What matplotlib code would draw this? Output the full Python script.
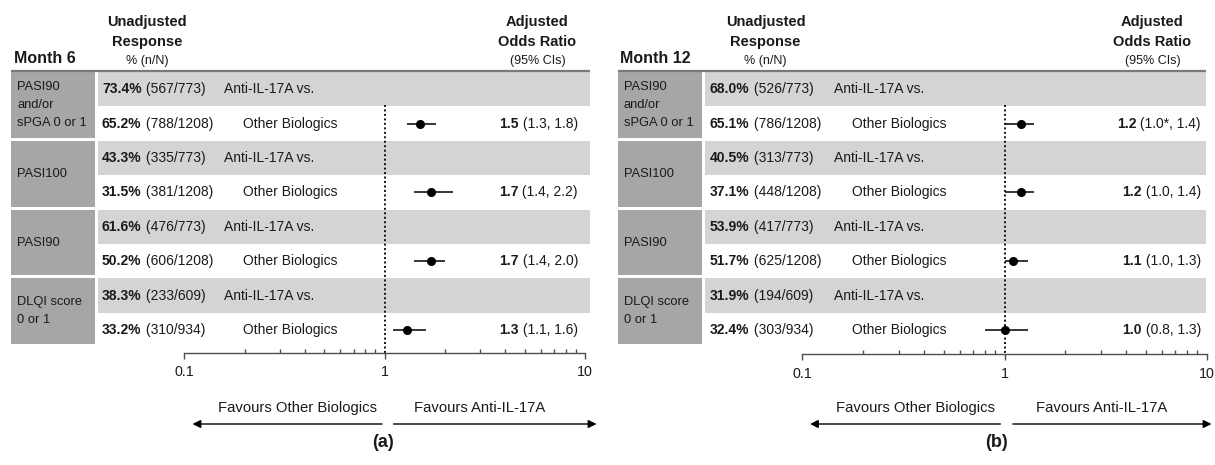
import matplotlib
matplotlib.use("Agg")
import matplotlib.pyplot as plt
from matplotlib.transforms import Affine2D, blended_transform_factory
from matplotlib.patches import Rectangle
from matplotlib.ticker import LogLocator, NullFormatter

plt.rcParams['font.family'] = ['Liberation Sans', 'DejaVu Sans']

# ---------------- data ----------------
categories = [["PASI90", "and/or", "sPGA 0 or 1"], ["PASI100"], ["PASI90"], ["DLQI score", "0 or 1"]]
group_labels = ["Anti-IL-17A vs.", "Other Biologics"]
month_labels = ["Month 6", "Month 12"]
panel_tags = ["(a)", "(b)"]
favour_labels = ["Favours Other Biologics", "Favours Anti-IL-17A"]

m6_pct = [73.4, 65.2, 43.3, 31.5, 61.6, 50.2, 38.3, 33.2]
m6_n = [567, 788, 335, 381, 476, 606, 233, 310]
m6_N = [773, 1208, 773, 1208, 773, 1208, 609, 934]
m6_or = [1.5, 1.7, 1.7, 1.3]
m6_lo = [1.3, 1.4, 1.4, 1.1]
m6_hi = [1.8, 2.2, 2.0, 1.6]
m6_lo_note = ["", "", "", ""]

m12_pct = [68.0, 65.1, 40.5, 37.1, 53.9, 51.7, 31.9, 32.4]
m12_n = [526, 786, 313, 448, 417, 625, 194, 303]
m12_N = [773, 1208, 773, 1208, 773, 1208, 609, 934]
m12_or = [1.2, 1.2, 1.1, 1.0]
m12_lo = [1.0, 1.0, 1.0, 0.8]
m12_hi = [1.4, 1.4, 1.3, 1.3]
m12_lo_note = ["*", "", "", ""]

x_ticks = [0.1, 1, 10]
x_tick_labels = ["0.1", "1", "10"]

# ---------------- layout ----------------
W, H = 1215, 465
fig = plt.figure(figsize=(W / 100, H / 100), dpi=100)
px = Affine2D().scale(1.0 / W, -1.0 / H).translate(0, 1) + fig.transFigure

BAND = '#d4d4d4'
BOX = '#a6a6a6'
HDR = '#7a7a7a'
TXT = '#1a1a1a'
ROW_H = 34.4
TOP = 72.0

panels = [
    dict(pct=m6_pct, n=m6_n, N=m6_N, orv=m6_or, lo=m6_lo, hi=m6_hi, note=m6_lo_note,
         box0=11, box1=95, band0=98, band1=590, pct_x=102, vs_x=224, oth_x=243,
         unadj_cx=147, adj_cx=537.5, or_r=578, x01=184.3, x10=585, axis_y=352.7,
         month_x=14, fav_l=377, fav_r=414.5, arr_l=(382, 192.5), arr_r=(393.6, 596.5), tag_x=383),
    dict(pct=m12_pct, n=m12_n, N=m12_N, orv=m12_or, lo=m12_lo, hi=m12_hi, note=m12_lo_note,
         box0=617.7, box1=701.7, band0=705, band1=1206, pct_x=710, vs_x=834, oth_x=852,
         unadj_cx=765.5, adj_cx=1152.5, or_r=1201, x01=802.3, x10=1206.7, axis_y=354,
         month_x=620, fav_l=995, fav_r=1035.6, arr_l=(1000.4, 810), arr_r=(1012.8, 1211.5), tag_x=996),
]

for p_i, g in enumerate(panels):
    ax = fig.add_axes([g['x01'] / W, 1 - g['axis_y'] / H,
                       (g['x10'] - g['x01']) / W, (g['axis_y'] - TOP) / H])
    ax.patch.set_visible(False)
    ybot = (g['axis_y'] - TOP) / ROW_H
    ax.set_xscale('log')
    ax.set_xlim(0.1, 10)
    ax.set_ylim(ybot, 0)
    for s in ['top', 'left', 'right']:
        ax.spines[s].set_visible(False)
    ax.spines['bottom'].set_color('#4d4d4d')
    ax.spines['bottom'].set_linewidth(1.0)
    ax.set_yticks([])
    ax.set_xticks(x_ticks)
    ax.set_xticklabels(x_tick_labels)
    ax.xaxis.set_minor_locator(LogLocator(base=10, subs=[2, 3, 4, 5, 6, 7, 8, 9]))
    ax.xaxis.set_minor_formatter(NullFormatter())
    ax.tick_params(axis='x', which='major', direction='out', length=4, width=1.0,
                   color='#4d4d4d', labelsize=10.3, pad=5, labelcolor=TXT)
    ax.tick_params(axis='x', which='minor', direction='in', length=3, width=1.0, color='#4d4d4d')

    blend = blended_transform_factory(px, ax.transData)

    # header line
    ax.plot([g['box0'], g['band1']], [70.7, 70.7], transform=px, color=HDR, lw=1.6,
            clip_on=False, solid_capstyle='butt')

    # bands and category boxes
    for k in range(4):
        ax.add_patch(Rectangle((g['band0'], 2 * k), g['band1'] - g['band0'], 1,
                               transform=blend, facecolor=BAND, edgecolor='none',
                               clip_on=False, zorder=0))
        ax.add_patch(Rectangle((g['box0'], 2 * k), g['box1'] - g['box0'], 2 - 3.0 / ROW_H,
                               transform=blend, facecolor=BOX, edgecolor='none',
                               clip_on=False, zorder=0))
        lines = categories[k]
        cy = 2 * k + 1 - 1.5 / ROW_H
        nlines = len(lines)
        for j, ln in enumerate(lines):
            off = (j - (nlines - 1) / 2.0) * 18.0 / ROW_H
            ax.text(g['box0'] + 6, cy + off, ln, transform=blend, fontsize=9.3,
                    ha='left', va='center', color=TXT, clip_on=False)

    # row texts
    for i in range(8):
        yc = i + 0.5
        t1 = ax.text(g['pct_x'], yc, f"{g['pct'][i]:.1f}%", transform=blend, fontsize=10,
                     fontweight='bold', ha='left', va='center', color=TXT, clip_on=False)
        ax.annotate(f" ({g['n'][i]}/{g['N'][i]})", xy=(1, 0), xycoords=t1, fontsize=10,
                    ha='left', va='bottom', color=TXT, annotation_clip=False)
        gx = g['vs_x'] if i % 2 == 0 else g['oth_x']
        ax.text(gx, yc, group_labels[i % 2], transform=blend, fontsize=10,
                ha='left', va='center', color=TXT, clip_on=False)

    # dotted reference line
    ax.plot([1, 1], [1 - 1.5 / ROW_H, ybot], color='#111111', lw=1.4,
            linestyle=(0, (1, 1.3)), clip_on=False, zorder=2)

    # forest marks and OR texts
    for k in range(4):
        yc = 2 * k + 1.5
        ax.plot([g['lo'][k], g['hi'][k]], [yc, yc], color='black', lw=1.1, zorder=3,
                solid_capstyle='butt')
        ax.plot([g['orv'][k]], [yc], 'o', color='black', markersize=5.5, zorder=4)
        t2 = ax.text(g['or_r'], yc, f" ({g['lo'][k]:.1f}{g['note'][k]}, {g['hi'][k]:.1f})",
                     transform=blend, fontsize=10, ha='right', va='center', color=TXT,
                     clip_on=False)
        ax.annotate(f"{g['orv'][k]:.1f}", xy=(0, 0), xycoords=t2, fontsize=10,
                    fontweight='bold', ha='right', va='bottom', color=TXT,
                    annotation_clip=False)

    # headers
    fig.text(g['month_x'], 63, month_labels[p_i], transform=px, fontsize=11.5,
             fontweight='bold', ha='left', va='baseline', color=TXT)
    fig.text(g['unadj_cx'], 22, "Unadjusted", transform=px, fontsize=10.5,
             fontweight='bold', ha='center', va='center', color=TXT)
    fig.text(g['unadj_cx'], 42, "Response", transform=px, fontsize=10.5,
             fontweight='bold', ha='center', va='center', color=TXT)
    fig.text(g['unadj_cx'], 61, "% (n/N)", transform=px, fontsize=9,
             ha='center', va='center', color=TXT)
    fig.text(g['adj_cx'], 22, "Adjusted", transform=px, fontsize=10.5,
             fontweight='bold', ha='center', va='center', color=TXT)
    fig.text(g['adj_cx'], 42, "Odds Ratio", transform=px, fontsize=10.5,
             fontweight='bold', ha='center', va='center', color=TXT)
    fig.text(g['adj_cx'], 61, "(95% CIs)", transform=px, fontsize=9,
             ha='center', va='center', color=TXT)

    # favours labels and arrows
    fig.text(g['fav_l'], 408, favour_labels[0], transform=px, fontsize=10.7,
             ha='right', va='center', color=TXT)
    fig.text(g['fav_r'], 408, favour_labels[1], transform=px, fontsize=10.7,
             ha='left', va='center', color=TXT)
    for (x0, x1) in [g['arr_l'], g['arr_r']]:
        ax.annotate('', xy=(x1, 424), xytext=(x0, 424), xycoords=px, textcoords=px,
                    arrowprops=dict(arrowstyle='-|>', color='black', lw=1.0,
                                    mutation_scale=12, shrinkA=0, shrinkB=0),
                    annotation_clip=False)

    fig.text(g['tag_x'], 442, panel_tags[p_i], transform=px, fontsize=13,
             fontweight='bold', ha='center', va='center', color=TXT)

fig.savefig("out.png", dpi=100)
